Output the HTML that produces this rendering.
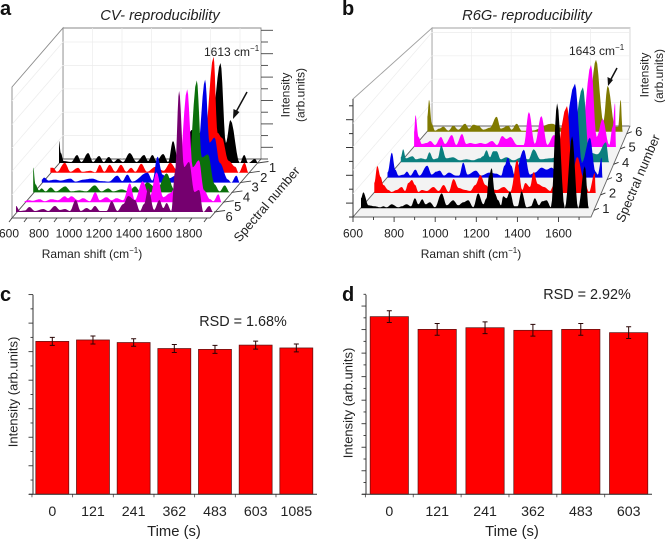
<!DOCTYPE html>
<html>
<head>
<meta charset="utf-8">
<title>Raman reproducibility panels</title>
<style>
html,body{margin:0;padding:0;background:#fff;}
svg{display:block;}
text{font-family:"Liberation Sans",sans-serif;font-size:12px;fill:#222;}
.letter{font-weight:bold;font-size:20px;fill:#111;}
.title{font-style:italic;font-size:14.7px;}
.mid{text-anchor:middle;}
.depth{font-size:13px;}
.bartick{font-size:14.2px;}
.bartitle{font-size:14.8px;}
.rsd{font-size:14.4px;}
.ytitle{font-size:13px;}
</style>
</head>
<body>
<svg id="chart" xmlns="http://www.w3.org/2000/svg" width="665" height="540" viewBox="0 0 665 540">
  <text class="letter" x="0" y="15">a</text>
  <text class="letter" x="342" y="15">b</text>
  <text class="letter" x="0" y="301">c</text>
  <text class="letter" x="342" y="301">d</text>

  <text class="title mid" x="160" y="20">CV- reproducibility</text>
  <text class="title mid" x="527" y="20">R6G- reproducibility</text>

  <g id="panelA">
    <polygon points="63,28 261,28 261,159 63,159" fill="#fff" stroke="#8a8a8a" stroke-width="0.9"/>
    <polygon points="12,87 63,28 63,159 12,218" fill="#fff" stroke="#8a8a8a" stroke-width="0.9"/>
    <polygon points="12,218 63,159 261,159 210,218" fill="#fff" stroke="#555" stroke-width="0.9"/>
  </g>
  <g id="panelB">
    <polygon points="432,28 630,28 630,126 432,126" fill="#fff" stroke="#a0a0a0" stroke-width="0.9"/>
    <polygon points="353,99 432,28 432,126 353,217" fill="#fff" stroke="#a0a0a0" stroke-width="0.9"/>
    <polygon points="353,217 432,126 630,126 591,217" fill="#f3f3f3" stroke="#666" stroke-width="0.9"/>
    <line x1="353" y1="99" x2="353" y2="217" stroke="#333" stroke-width="1"/>
  </g>
  <g id="panelC"></g>
  <g id="panelD"></g>

  <text class="mid" x="92" y="258">Raman shift (cm<tspan font-size="8" dy="-5">−1</tspan><tspan dy="5">)</tspan></text>
  <text class="mid" x="471" y="258">Raman shift (cm<tspan font-size="8" dy="-5">−1</tspan><tspan dy="5">)</tspan></text>
  <text class="mid" style="font-size:12.8px" transform="translate(270,207) rotate(-49.5)">Spectral number</text>
  <text class="mid" style="font-size:12.8px" transform="translate(642,180) rotate(-67)">Spectral number</text>
  <text class="mid" transform="translate(289.5,95) rotate(-90)">Intensity</text>
  <text class="mid" transform="translate(304.5,95) rotate(-90)">(arb.units)</text>
  <text class="mid" transform="translate(648.5,75) rotate(-90)">Intensity</text>
  <text class="mid" transform="translate(663,76) rotate(-90)">(arb.units)</text>

  <text x="204" y="56">1613 cm<tspan font-size="8" dy="-5">−1</tspan></text>
  <text x="569" y="55">1643 cm<tspan font-size="8" dy="-5">−1</tspan></text>

  <g>
    <line x1="247" y1="92" x2="236" y2="112" stroke="#111" stroke-width="1.5"/>
    <polygon points="233,119 233.5,109 239.5,112" fill="#111"/>
  </g>
  <g>
    <line x1="617" y1="68" x2="610" y2="81" stroke="#111" stroke-width="1.5"/>
    <polygon points="608,86 607.5,77 613,80" fill="#111"/>
  </g>

  <text class="mid ytitle" transform="translate(17.5,392) rotate(-90)">Intensity (arb.units)</text>
  <text class="mid ytitle" transform="translate(352.5,403) rotate(-90)">Intensity (arb.units)</text>
  <text class="mid bartitle" x="174" y="536">Time (s)</text>
  <text class="mid bartitle" x="512" y="536">Time (s)</text>
  <text class="mid rsd" x="243" y="326">RSD = 1.68%</text>
  <text class="mid rsd" x="587" y="299">RSD = 2.92%</text>
</svg>
<script>
// ---------- Panel a: [Raman shift, intensity] ----------
const cvSpectrum1 = [[600,22],[612,10],[630,2],[680,1],[718,8],[746,1],[790,10],[822,1],[862,7],[892,1],[925,6],[957,1],[986,4],[1019,1],[1062,10],[1106,1],[1156,8],[1182,2],[1210,8],[1237,2],[1280,9],[1313,1],[1345,22],[1378,3],[1410,3],[1465,33],[1520,30],[1596,40],[1655,100],[1690,20],[1720,43],[1781,0],[1810,8],[1836,0],[1880,4],[1900,0]];
const cvSpectrum2 = [[600,5],[617,5],[644,1],[694,10],[731,1],[781,5],[807,1],[862,2],[894,0.5],[923,8],[953,1],[988,8],[1025,1],[1062,8],[1097,1],[1128,5],[1156,1],[1195,9],[1232,1],[1287,6],[1341,2],[1385,10],[1428,3],[1559,20],[1607,30],[1668,116],[1694,40],[1723,35],[1766,12],[1810,6],[1832,0],[1871,10],[1897,0]];
const cvSpectrum3 = [[600,3],[615,5],[644,2],[688,3],[721,2],[787,4],[820,1],[875,3],[930,4],[985,1.5],[1040,1],[1095,7],[1128,1.5],[1161,8],[1194,1],[1293,10],[1326,2],[1359,26],[1392,8],[1425,4],[1557,15],[1623,35],[1671,103],[1700,40],[1733,45],[1766,20],[1821,3],[1843,0],[1876,7],[1898,0]];
const cvSpectrum4 = [[600,25],[615,8],[638,2],[655,4],[682,1],[715,5],[749,1],[811,6],[849,1],[904,2],[949,1],[1004,7],[1048,1],[1093,4],[1126,1],[1182,3],[1226,1],[1270,6],[1304,1],[1348,10],[1415,4],[1477,19],[1526,3],[1615,15],[1675,112],[1708,35],[1748,38],[1792,8],[1825,1],[1859,7],[1892,0]];
const cvSpectrum5 = [[600,1],[622,2],[655,1.5],[699,3],[732,1],[776,3],[820,2],[864,6],[886,4],[908,6],[952,2],[985,4],[1029,1],[1066,10],[1095,2],[1139,5],[1172,2],[1205,4],[1249,2],[1293,19],[1326,2],[1377,21],[1425,6],[1469,30],[1513,5],[1557,9],[1612,20],[1671,113],[1707,35],[1748,42],[1781,12],[1821,3],[1843,1],[1876,8],[1898,0]];
const cvSpectrum6 = [[600,6],[626,1],[659,1.5],[688,5],[725,1],[780,3],[813,1],[857,6],[890,2],[923,3],[956,1],[994,12],[1027,1],[1066,4],[1093,2],[1121,6],[1154,1],[1198,1],[1231,11],[1269,1],[1308,8],[1341,16],[1385,12],[1418,1],[1445,8],[1473,24],[1511,2],[1546,12],[1572,4],[1594,9],[1625,1],[1649,40],[1676,121],[1709,45],[1742,50],[1777,20],[1808,22],[1836,0],[1876,6],[1900,0]];
const cvColors = ['#000000','#ff0000','#0000e6','#0b700b','#ff00ff','#75006f'];
const cvNumbers = [1,2,3,4,5,6];
const cvTickLabels = [600,800,1000,1200,1400,1600,1800];

// ---------- Panel b ----------
const r6gSpectrum1 = [[600,10],[612,16],[637,3],[671,2],[696,1],[713,2],[729,1],[755,4],[788,1],[805,2],[830,4],[852,2],[872,10],[889,4],[909,9],[926,4],[948,6],[973,1],[1007,15],[1032,3],[1065,8],[1090,3],[1116,6],[1141,8],[1166,1],[1191,15],[1217,4],[1233,10],[1245,32],[1259,40],[1275,15],[1292,8],[1306,3],[1317,12],[1334,10],[1351,17],[1373,2],[1390,2],[1410,17],[1435,1],[1457,2],[1477,10],[1497,3],[1514,7],[1536,8],[1558,1],[1589,105],[1628,0],[1665,72],[1695,0],[1729,42],[1749,0]];
const r6gSpectrum2 = [[600,10],[616,27],[633,16],[647,8],[673,3],[690,1],[716,3],[742,6],[760,2],[777,10],[795,13],[812,8],[829,1],[847,3],[873,2],[907,6],[934,2],[960,8],[986,1],[1012,14],[1038,5],[1072,3],[1098,2],[1125,8],[1151,18],[1177,8],[1203,4],[1237,3],[1272,6],[1307,1],[1342,33],[1368,3],[1385,10],[1408,6],[1428,21],[1449,9],[1481,6],[1515,2],[1601,87],[1628,20],[1654,36],[1689,14],[1715,1],[1745,20],[1750,0]];
const r6gSpectrum3 = [[600,5],[623,25],[641,8],[659,2],[686,3],[704,6],[722,2],[749,8],[771,2],[812,12],[836,3],[861,6],[879,7],[902,2],[929,5],[965,2],[983,2],[1005,15],[1028,3],[1073,7],[1100,2],[1145,5],[1181,4],[1208,2],[1226,12],[1244,20],[1262,12],[1280,2],[1329,28],[1361,3],[1388,5],[1424,10],[1451,8],[1478,10],[1514,3],[1603,94],[1640,15],[1683,40],[1712,6],[1725,3],[1745,20],[1750,0]];
const r6gSpectrum4 = [[600,5],[613,13],[628,4],[665,6],[683,3],[711,4],[739,3],[758,10],[780,3],[804,4],[823,17],[850,4],[888,5],[925,2],[962,3],[999,2],[1036,4],[1054,6],[1073,12],[1092,5],[1110,11],[1129,11],[1151,3],[1184,5],[1221,2],[1267,5],[1305,3],[1333,13],[1370,3],[1425,4],[1481,6],[1536,12],[1605,75],[1639,10],[1685,8],[1732,20],[1750,0]];
const r6gSpectrum5 = [[600,15],[608,32],[625,10],[644,3],[672,4],[692,6],[720,2],[753,10],[777,3],[815,12],[840,2],[873,13],[897,3],[920,4],[949,3],[978,4],[1006,3],[1044,6],[1073,2],[1102,11],[1126,8],[1149,10],[1187,2],[1225,2],[1254,35],[1288,3],[1325,31],[1359,2],[1397,12],[1435,2],[1473,4],[1550,8],[1608,82],[1640,10],[1674,28],[1712,2],[1731,20],[1745,44],[1750,0]];
const r6gSpectrum6 = [[600,15],[610,32],[626,8],[645,1],[669,3],[694,5],[724,1],[753,6],[782,2],[822,8],[845,3],[871,7],[900,6],[930,2],[969,4],[1008,15],[1032,3],[1077,6],[1096,2],[1126,8],[1155,1],[1214,1],[1332,8],[1391,4],[1469,2],[1547,20],[1593,72],[1636,10],[1662,46],[1705,5],[1724,5],[1738,32],[1750,0]];
const r6gColors = ['#000000','#ff0000','#0000e6','#0b7f7f','#ff00ff','#807a00'];
const r6gNumbers = [1,2,3,4,5,6];
const r6gTickLabels = [600,800,1000,1200,1400,1600];

// ---------- Panels c and d ----------
const cCategories = ['0','121','241','362','483','603','1085'];
const cValues = [5.36,5.41,5.32,5.11,5.08,5.23,5.13];
const cErrors = [0.14,0.14,0.13,0.14,0.14,0.14,0.14];
const dCategories = ['0','121','241','362','483','603'];
const dValues = [7.55,7.01,7.08,6.97,7.01,6.87];
const dErrors = [0.25,0.25,0.25,0.25,0.25,0.25];

const NS = 'http://www.w3.org/2000/svg';
function mk(parent, tag, attrs, txt) {
  const n = document.createElementNS(NS, tag);
  Object.keys(attrs).forEach(function (k) { n.setAttribute(k, attrs[k]); });
  if (txt !== undefined) n.textContent = txt;
  parent.appendChild(n);
  return n;
}
const panelA = document.getElementById('panelA');
const panelB = document.getElementById('panelB');
const panelC = document.getElementById('panelC');
const panelD = document.getElementById('panelD');

// ---- panel a axes: depth runs from spectrum 1 (back) to 6 (front)
function aX0(d) { return 59 - (d - 1) * 8.6; }
function aX1(d) { return 258 - (d - 1) * 9; }
function aBase(d) { return 163 + (d - 1) * 9.8; }
function aWaveX(d, w) { return aX0(d) + (w - 600) / 1300 * (aX1(d) - aX0(d)); }
function aIntY(d, v) { return aBase(d) - v; }
function aFrontX(w) { return 12 + (w - 600) * 0.15; }
function aDiagX(y) { return 261 - (y - 159) * (54 / 61); }

// ---- panel b axes: spectrum 1 is at the front
function bX0(d) { return 361 + (d - 1) * 13.27; }
function bX1(d) { return 589 + (d - 1) * 6.73; }
function bBase(d) { return 208.3 - (d - 1) * 15.33; }
function bWaveX(d, w) { return bX0(d) + (w - 600) / 1150 * (bX1(d) - bX0(d)); }
function bIntY(d, v) { return bBase(d) - v; }
function bFrontX(w) { return 353 + (w - 600) * 0.2055; }
function bDiagX(y) { return 630 - (y - 126) * (39 / 91); }

function grid(parent, name, x1, y1, x2, y2) {
  const l = mk(parent, 'line', {x1: x1, y1: y1, x2: x2, y2: y2, stroke: '#ececec', 'stroke-width': 0.7});
  
  
}

// panel a grid and intensity ticks
[1, 2, 3, 4, 5].forEach(function (i) {
  const y = 159 - i * 23.4;
  grid(panelA, 'panel-a-wall-gridline', 63, y, 261, y);
  grid(panelA, 'panel-a-side-gridline', 12, y + 59, 63, y);
});
[1, 2, 3, 4, 5, 6].forEach(function (i) {
  const x = 63 + i * 29.5;
  grid(panelA, 'panel-a-wall-gridline', x, 28, x, 159);
});
[0, 1, 2, 3, 4, 5, 6, 7, 8, 9, 10, 11].forEach(function (i) {
  const y = 159 - i * 11.7;
  const t = mk(panelA, 'line', {x1: 261, y1: y, x2: i % 2 ? 273 : 268, y2: y, stroke: '#444', 'stroke-width': 0.9});
  
  
});

// panel b grid and intensity ticks
[1, 2, 3, 4].forEach(function (i) {
  const y = 126 - i * 23.4;
  grid(panelB, 'panel-b-wall-gridline', 432, y, 630, y);
  grid(panelB, 'panel-b-side-gridline', 353, y + 91, 432, y);
});
[1, 2, 3, 4, 5].forEach(function (i) {
  const x = 432 + i * 39.6;
  grid(panelB, 'panel-b-wall-gridline', x, 28, x, 126);
});
[0, 1, 2, 3, 4, 5, 6, 7, 8].forEach(function (i) {
  const y = 217 - i * 13.9;
  const t = mk(panelB, 'line', {x1: 353, y1: y, x2: i % 2 ? 346 : 349, y2: y, stroke: '#333', 'stroke-width': 1});
  
  
});

// draws the outline between read values with cosine easing, so humps come out rounded
function spectrumPoints(data, xf, yf, d) {
  const pts = [xf(d, data[0][0]).toFixed(1) + ',' + yf(d, 0).toFixed(1)];
  data.forEach(function (p, i) {
    if (i === 0) {
      pts.push(xf(d, p[0]).toFixed(1) + ',' + yf(d, p[1]).toFixed(1));
      return;
    }
    const q = data[i - 1];
    for (let k = 1; k <= 6; k++) {
      const t = k / 6;
      const e = (1 - Math.cos(Math.PI * t)) / 2;
      const w = q[0] + (p[0] - q[0]) * t;
      const v = q[1] + (p[1] - q[1]) * e;
      pts.push(xf(d, w).toFixed(1) + ',' + yf(d, v).toFixed(1));
    }
  });
  pts.push(xf(d, data[data.length - 1][0]).toFixed(1) + ',' + yf(d, 0).toFixed(1));
  return pts.join(' ');
}

// panel a spectra (back to front)
[cvSpectrum1, cvSpectrum2, cvSpectrum3, cvSpectrum4, cvSpectrum5, cvSpectrum6].forEach(function (s, i) {
  const p = mk(panelA, 'polygon', {points: spectrumPoints(s, aWaveX, aIntY, cvNumbers[i]), fill: cvColors[i]});
  
  
});
// panel b spectra (back to front)
[r6gSpectrum6, r6gSpectrum5, r6gSpectrum4, r6gSpectrum3, r6gSpectrum2, r6gSpectrum1].forEach(function (s, i) {
  const idx = 5 - i;
  const p = mk(panelB, 'polygon', {points: spectrumPoints(s, bWaveX, bIntY, r6gNumbers[idx]), fill: r6gColors[idx]});
  
  
});

// panel a raman ticks and labels
for (let w = 600; w <= 1900; w += 100) {
  const x = aFrontX(w);
  const t = mk(panelA, 'line', {x1: x, y1: 218, x2: x - 3, y2: 222, stroke: '#444', 'stroke-width': 0.9});
  
  
}
cvTickLabels.forEach(function (w) {
  const t = mk(panelA, 'text', {x: aFrontX(w) - 3, y: 237.5, 'text-anchor': 'middle'}, String(w));
  
  
});
// panel a depth ticks and labels
cvNumbers.forEach(function (d) {
  const y = aBase(d);
  const x = aDiagX(y);
  const t = mk(panelA, 'line', {x1: x, y1: y, x2: x + 11, y2: y - 1.5, stroke: '#444', 'stroke-width': 0.9});
  
  
  const l = mk(panelA, 'text', {x: x + 15, y: y + 9, 'text-anchor': 'middle', 'class': 'depth'}, String(d));
  
  
});

// panel b raman ticks and labels
for (let w = 600; w <= 1700; w += 100) {
  const x = bFrontX(w);
  const t = mk(panelB, 'line', {x1: x, y1: 217, x2: x, y2: w % 200 === 0 ? 222 : 220, stroke: '#333', 'stroke-width': 0.9});
  
  
}
r6gTickLabels.forEach(function (w) {
  const t = mk(panelB, 'text', {x: bFrontX(w), y: 237.5, 'text-anchor': 'middle'}, String(w));
  
  
});
r6gNumbers.forEach(function (d) {
  const y = bBase(d) + 2;
  const x = bDiagX(y);
  const t = mk(panelB, 'line', {x1: x, y1: y, x2: x + 5, y2: y - 2, stroke: '#333', 'stroke-width': 0.9});
  
  
  const l = mk(panelB, 'text', {x: x + 12, y: y + 2.5, 'text-anchor': 'middle', 'class': 'depth'}, String(d));
  
  
});

// bar panels
function barPanel(g, prefix, cats, vals, errs, cfg) {
  function yScale(v) { return cfg.y0 - v * cfg.unit; }
  function xScale(i) { return cfg.first + i * cfg.step; }
  vals.forEach(function (v, i) {
    const cx = xScale(i);
    const b = mk(g, 'rect', {x: cx - cfg.width / 2, y: yScale(v), width: cfg.width, height: cfg.y0 - yScale(v), fill: '#ff0000', stroke: '#5a1010', 'stroke-width': 0.7});
    
    
    const hi = yScale(v + errs[i]);
    const lo = yScale(v - errs[i]);
    const e = mk(g, 'path', {d: 'M' + cx + ' ' + hi + 'V' + lo + 'M' + (cx - 2.5) + ' ' + hi + 'h5M' + (cx - 2.5) + ' ' + lo + 'h5', stroke: '#2a0505', 'stroke-width': 1, fill: 'none'});
    
    
    const l = mk(g, 'text', {x: cx, y: 516, 'text-anchor': 'middle', 'class': 'bartick'}, cats[i]);
    
    
    const t = mk(g, 'line', {x1: cx - cfg.step / 2, y1: cfg.y0, x2: cx - cfg.step / 2, y2: cfg.y0 + 3, stroke: '#444', 'stroke-width': 0.8});
    
    
  });
  const ya = mk(g, 'line', {x1: cfg.axisX, y1: cfg.top, x2: cfg.axisX, y2: cfg.y0, stroke: '#333', 'stroke-width': 1});
  
  
  const xa = mk(g, 'line', {x1: cfg.axisX - 4, y1: cfg.y0, x2: cfg.right, y2: cfg.y0, stroke: '#333', 'stroke-width': 1});
  
  
  for (let v = 0; yScale(v) >= cfg.top - 0.5; v += 0.5) {
    const major = Number.isInteger(v);
    const t = mk(g, 'line', {x1: cfg.axisX - (major ? 4.5 : 2.5), y1: yScale(v), x2: cfg.axisX, y2: yScale(v), stroke: '#333', 'stroke-width': 0.9});
    
    
  }
}
barPanel(panelC, 'panel-c', cCategories, cValues, cErrors, {y0: 494.3, unit: 28.53, top: 294.7, axisX: 33, right: 317, first: 52.3, step: 40.67, width: 33});
barPanel(panelD, 'panel-d', dCategories, dValues, dErrors, {y0: 494.3, unit: 23.53, top: 294.7, axisX: 366, right: 652, first: 389.3, step: 47.87, width: 38.3});
</script>
</body>
</html>
